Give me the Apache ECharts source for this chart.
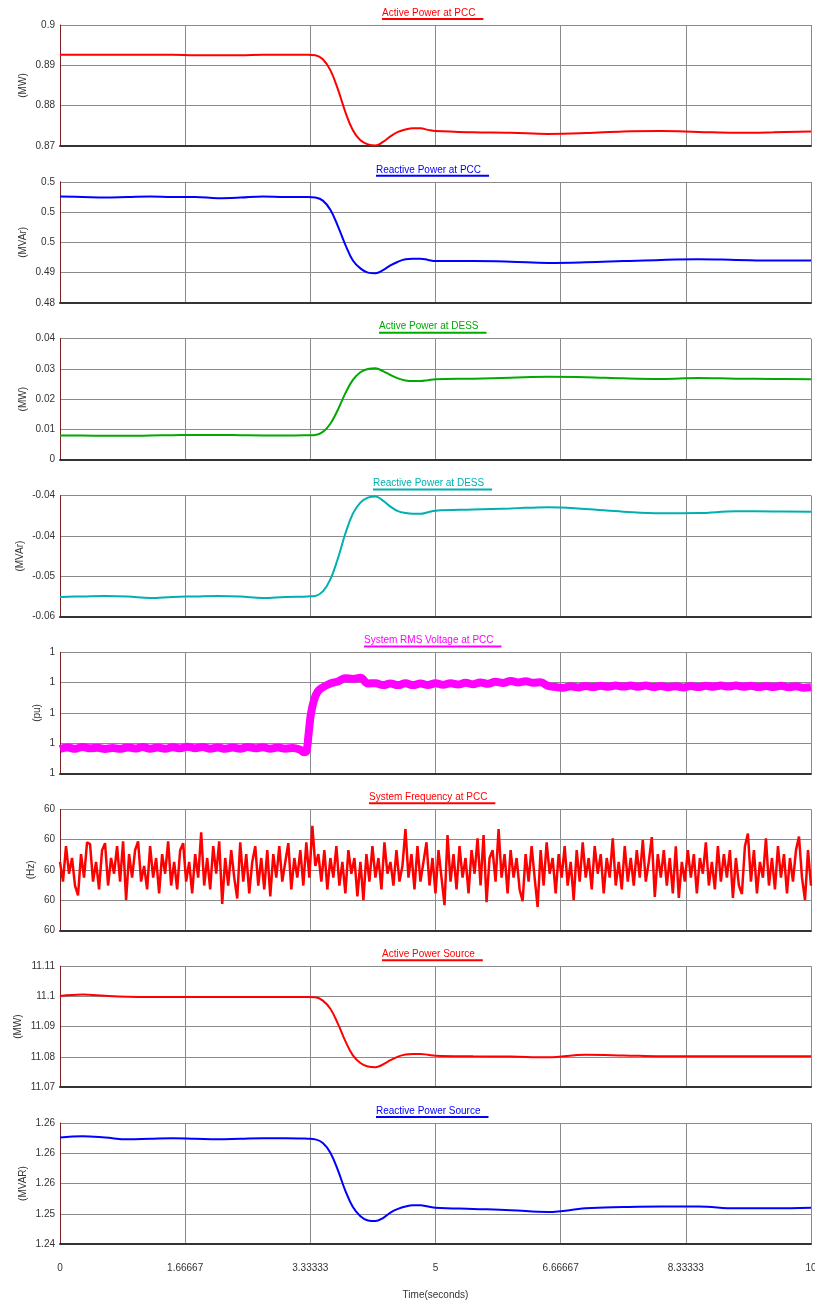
<!DOCTYPE html>
<html>
<head>
<meta charset="utf-8">
<script src="https://cdn.jsdelivr.net/npm/echarts@6/dist/echarts.min.js"></script>
<style>
  html, body { margin: 0; padding: 0; background: #ffffff; }
  #chart { width: 815px; height: 1302px; }
</style>
</head>
<body>
<div id="chart"></div>
<script>
// ---- Sample times (s) shared by the smooth power traces ----
const timeBase = [0, 0.3, 0.6, 0.9, 1.2, 1.5, 1.8, 2.1, 2.4, 2.7, 3.0, 3.3,
  3.4, 3.5, 3.6, 3.7, 3.8, 3.9, 4.0, 4.1, 4.2, 4.3, 4.4, 4.5, 4.6, 4.7, 4.8, 4.9, 5.0,
  5.5, 6.0, 6.5, 7.0, 7.5, 8.0, 8.5, 9.0, 9.5, 10.0];

// Active power at PCC (MW)
const pccActiveMW = [0.8926, 0.8926, 0.8926, 0.8926, 0.8926, 0.8926, 0.8925, 0.8925, 0.8925, 0.8926, 0.8926, 0.8926,
  0.8925, 0.8915, 0.8888, 0.8841, 0.8784, 0.8739, 0.8714, 0.8704, 0.8701, 0.8710, 0.8724, 0.8735, 0.8741, 0.8744, 0.8744, 0.8740, 0.8737,
  0.8734, 0.8733, 0.8730, 0.8732, 0.8736, 0.8737, 0.8735, 0.8733, 0.8734, 0.8736];

// Reactive power at PCC (MVAr)
const pccReactiveMVAr = [0.4976, 0.4975, 0.4974, 0.4975, 0.4976, 0.4975, 0.4975, 0.4973, 0.4974, 0.4976, 0.4975, 0.4975,
  0.4974, 0.4969, 0.4954, 0.4927, 0.4896, 0.4870, 0.4857, 0.4850, 0.4849, 0.4854, 0.4862, 0.4868, 0.4872, 0.4873, 0.4873, 0.4871, 0.4869,
  0.4869, 0.4868, 0.4866, 0.4867, 0.4869, 0.4871, 0.4872, 0.4871, 0.4870, 0.4870];

// Active power at DESS (MW)
const dessActiveMW = [0.0080, 0.0080, 0.0079, 0.0079, 0.0080, 0.0081, 0.0082, 0.0082, 0.0081, 0.0080, 0.0080, 0.0081,
  0.0082, 0.0092, 0.0119, 0.0165, 0.0220, 0.0264, 0.0289, 0.0300, 0.0302, 0.0293, 0.0280, 0.0269, 0.0262, 0.0260, 0.0260, 0.0263, 0.0266,
  0.0268, 0.0271, 0.0274, 0.0273, 0.0269, 0.0267, 0.0270, 0.0268, 0.0267, 0.0266];

// Reactive power at DESS (MVAr)
const dessReactiveMVAr = [-0.05634, -0.05625, -0.05616, -0.05625, -0.05653, -0.05634, -0.05625, -0.05616, -0.05625, -0.05653, -0.05634, -0.05625,
  -0.05616, -0.05532, -0.05309, -0.04920, -0.04456, -0.04085, -0.03880, -0.03787, -0.03769, -0.03843, -0.03955, -0.04040, -0.04075, -0.04088, -0.04088, -0.04060, -0.04031,
  -0.04010, -0.03990, -0.03966, -0.04000, -0.04050, -0.04080, -0.04075, -0.04041, -0.04045, -0.04050];

// Active power of the source (MW)
const srcActiveMW = [11.1001, 11.1006, 11.1002, 11.0999, 11.0998, 11.0998, 11.0998, 11.0998, 11.0998, 11.0998, 11.0998, 11.0998,
  11.0997, 11.0986, 11.0959, 11.0910, 11.0852, 11.0805, 11.0780, 11.0768, 11.0766, 11.0775, 11.0789, 11.0801, 11.0808, 11.0810, 11.0810, 11.0807, 11.0804,
  11.0802, 11.0801, 11.0799, 11.0807, 11.0805, 11.0802, 11.0802, 11.0802, 11.0802, 11.0802];

// Reactive power of the source (MVAR)
const srcReactiveMVAR = [1.2576, 1.2578, 1.2576, 1.2573, 1.2574, 1.2575, 1.2574, 1.2573, 1.2574, 1.2575, 1.2575, 1.2574,
  1.2573, 1.2567, 1.2551, 1.2522, 1.2488, 1.2461, 1.2446, 1.2439, 1.2438, 1.2443, 1.2452, 1.2458, 1.2462, 1.2464, 1.2464, 1.2462, 1.2460,
  1.2458, 1.2456, 1.2453, 1.2459, 1.2461, 1.2462, 1.2462, 1.2459, 1.2459, 1.2460];

// ---- RMS voltage at PCC (pu) ----
const voltTime = [0, 0.1, 0.2, 0.3, 0.4, 0.5, 0.6, 0.7, 0.8, 0.9, 1.0, 1.1, 1.2, 1.3, 1.4, 1.5, 1.6, 1.7, 1.8, 1.9, 2.0, 2.1, 2.2, 2.3, 2.4, 2.5, 2.6, 2.7, 2.8, 2.9, 3.0, 3.1, 3.2,
  3.25, 3.28, 3.31, 3.34, 3.38, 3.43, 3.5,
  3.6, 3.7, 3.8, 3.9, 4.0, 4.1, 4.2, 4.3, 4.4, 4.5, 4.6, 4.7, 4.8, 4.9, 5.0, 5.1, 5.2, 5.3, 5.4, 5.5, 5.6, 5.7, 5.8, 5.9, 6.0, 6.1, 6.2, 6.3, 6.4, 6.5, 6.6, 6.7, 6.8, 6.9, 7.0, 7.1, 7.2, 7.3, 7.4, 7.5, 7.6, 7.7, 7.8, 7.9, 8.0, 8.1, 8.2, 8.3, 8.4, 8.5, 8.6, 8.7, 8.8, 8.9, 9.0, 9.1, 9.2, 9.3, 9.4, 9.5, 9.6, 9.7, 9.8, 9.9, 10.0];
const voltPu = [0.99762, 0.99772, 0.99763, 0.99775, 0.99766, 0.99770, 0.99762, 0.99769, 0.99763, 0.99772, 0.99765, 0.99774, 0.99764, 0.99771, 0.99763, 0.99773, 0.99766, 0.99776, 0.99767, 0.99774, 0.99764, 0.99772, 0.99763, 0.99771, 0.99764, 0.99774, 0.99766, 0.99773, 0.99764, 0.99771, 0.99764, 0.99768, 0.99756,
  0.99740, 0.99745, 0.99860, 0.99990, 1.00080, 1.00140, 1.00170,
  1.00195, 1.00208, 1.00230, 1.00225, 1.00232, 1.00195, 1.00197, 1.00184, 1.00194, 1.00184, 1.00196, 1.00184, 1.00194, 1.00185, 1.00196, 1.00186, 1.00196, 1.00188, 1.00199, 1.00190, 1.00202, 1.00193, 1.00206, 1.00198, 1.00211, 1.00202, 1.00209, 1.00200, 1.00203, 1.00178, 1.00172, 1.00166, 1.00176, 1.00169, 1.00178, 1.00171, 1.00180, 1.00173, 1.00181, 1.00174, 1.00182, 1.00173, 1.00181, 1.00171, 1.00178, 1.00170, 1.00177, 1.00169, 1.00178, 1.00171, 1.00180, 1.00173, 1.00181, 1.00174, 1.00181, 1.00173, 1.00180, 1.00171, 1.00178, 1.00172, 1.00180, 1.00170, 1.00176, 1.00167, 1.00170];

// ---- System frequency at PCC (Hz), sampled every 0.04 s from t = 0 ----
const freqStart = 0;
const freqStep = 0.04;
const freqHz = [
  60.0026, 59.9961, 60.0078, 59.9987, 60.0039, 59.9948, 59.9915, 60.0052, 59.9974, 60.0091,
  60.0085, 59.9961, 60.0026, 59.9935, 60.0065, 60.0088, 59.9948, 60.0039, 59.9987, 60.0078,
  59.9961, 60.0094, 59.9900, 60.0052, 59.9974, 60.0065, 60.0094, 59.9961, 60.0013, 59.9935,
  60.0078, 59.9974, 60.0039, 59.9922, 60.0052, 59.9987, 60.0094, 59.9948, 60.0026, 59.9935,
  60.0065, 60.0088, 59.9961, 60.0026, 59.9922, 60.0052, 59.9974, 60.0124, 59.9948, 60.0039,
  59.9935, 60.0078, 59.9987, 60.0094, 59.9887, 60.0039, 59.9948, 60.0065, 59.9974, 59.9905,
  60.0091, 59.9961, 60.0052, 59.9922, 60.0026, 60.0078, 59.9948, 60.0039, 59.9935, 60.0065,
  59.9912, 60.0052, 59.9974, 60.0078, 59.9961, 60.0026, 60.0088, 59.9935, 60.0039, 59.9974,
  60.0065, 59.9948, 60.0091, 59.9974, 60.0145, 60.0013, 60.0052, 59.9961, 60.0065, 59.9935,
  60.0039, 59.9974, 60.0078, 59.9948, 60.0026, 59.9922, 60.0065, 59.9987, 60.0039, 59.9912,
  60.0026, 59.9900, 60.0052, 59.9961, 60.0078, 59.9974, 60.0039, 59.9935, 60.0091, 59.9987,
  60.0026, 59.9948, 60.0065, 59.9961, 60.0013, 60.0135, 59.9974, 60.0052, 59.9935, 60.0078,
  59.9961, 60.0026, 60.0091, 59.9948, 60.0039, 59.9922, 60.0065, 59.9974, 59.9883, 60.0115,
  59.9961, 60.0052, 59.9935, 60.0078, 59.9974, 60.0039, 59.9922, 60.0065, 59.9987, 60.0104,
  59.9948, 60.0115, 59.9893, 60.0039, 60.0065, 59.9961, 60.0135, 59.9974, 60.0052, 59.9922,
  60.0065, 59.9974, 60.0039, 59.9935, 59.9896, 60.0052, 59.9961, 60.0078, 59.9974, 59.9877,
  60.0065, 59.9948, 60.0091, 59.9987, 60.0039, 59.9922, 60.0052, 59.9974, 60.0078, 59.9948,
  60.0026, 59.9900, 60.0065, 59.9961, 60.0091, 59.9974, 60.0039, 59.9935, 60.0078, 59.9987,
  60.0052, 59.9922, 60.0039, 59.9974, 60.0104, 59.9948, 60.0026, 59.9935, 60.0078, 59.9961,
  60.0039, 59.9948, 60.0065, 59.9974, 60.0098, 59.9961, 60.0026, 60.0108, 59.9910, 60.0052,
  59.9974, 60.0065, 59.9948, 60.0039, 59.9922, 60.0078, 59.9907, 60.0026, 59.9961, 60.0065,
  59.9974, 60.0052, 59.9922, 60.0039, 59.9987, 60.0091, 59.9948, 60.0026, 59.9935, 60.0078,
  59.9961, 60.0052, 59.9974, 60.0065, 59.9907, 60.0039, 59.9948, 59.9920, 60.0078, 60.0120,
  59.9961, 60.0065, 59.9922, 60.0026, 59.9974, 60.0104, 59.9948, 60.0039, 59.9935, 60.0078,
  59.9974, 60.0052, 59.9922, 60.0039, 59.9961, 60.0065, 60.0110, 59.9974, 59.9900, 60.0065,
  59.9948
];
const freqTime = freqHz.map((_, k) => +(freqStart + k * freqStep).toFixed(2));

// ---- Tick labels ----
const timeTickLabels = ['0', '1.66667', '3.33333', '5', '6.66667', '8.33333', '10'];
const pccActiveTicks = ['0.87', '0.88', '0.89', '0.9'];
const pccReactiveTicks = ['0.48', '0.49', '0.5', '0.5', '0.5'];
const dessActiveTicks = ['0', '0.01', '0.02', '0.03', '0.04'];
const dessReactiveTicks = ['-0.06', '-0.05', '-0.04', '-0.04'];
const voltTicks = ['1', '1', '1', '1', '1'];
const freqTicks = ['60', '60', '60', '60', '60'];
const srcActiveTicks = ['11.07', '11.08', '11.09', '11.1', '11.11'];
const srcReactiveTicks = ['1.24', '1.25', '1.26', '1.26', '1.26'];

// ---- Panel definitions (top to bottom) ----
const panels = [
  { title: 'Active Power at PCC', unit: '(MW)', color: '#ff0000', min: 0.87, max: 0.90, interval: 0.01, ticks: pccActiveTicks, t: timeBase, v: pccActiveMW, width: 2, smooth: 0.4 },
  { title: 'Reactive Power at PCC', unit: '(MVAr)', color: '#0000ff', min: 0.48, max: 0.50, interval: 0.005, ticks: pccReactiveTicks, t: timeBase, v: pccReactiveMVAr, width: 2, smooth: 0.4 },
  { title: 'Active Power at DESS', unit: '(MW)', color: '#00aa00', min: 0, max: 0.04, interval: 0.01, ticks: dessActiveTicks, t: timeBase, v: dessActiveMW, width: 2, smooth: 0.4 },
  { title: 'Reactive Power at DESS', unit: '(MVAr)', color: '#00b0b0', min: -0.06, max: -0.0375, interval: 0.0075, ticks: dessReactiveTicks, t: timeBase, v: dessReactiveMVAr, width: 2, smooth: 0.4 },
  { title: 'System RMS Voltage at PCC', unit: '(pu)', color: '#ff00ff', min: 0.996, max: 1.004, interval: 0.002, ticks: voltTicks, t: voltTime, v: voltPu, width: 8, smooth: 0.4 },
  { title: 'System Frequency at PCC', unit: '(Hz)', color: '#ff0000', min: 59.98, max: 60.02, interval: 0.01, ticks: freqTicks, t: freqTime, v: freqHz, width: 2.5, smooth: false },
  { title: 'Active Power Source', unit: '(MW)', color: '#ff0000', min: 11.07, max: 11.11, interval: 0.01, ticks: srcActiveTicks, t: timeBase, v: srcActiveMW, width: 2, smooth: 0.4 },
  { title: 'Reactive Power Source', unit: '(MVAR)', color: '#0000ff', min: 1.24, max: 1.26, interval: 0.005, ticks: srcReactiveTicks, t: timeBase, v: srcReactiveMVAR, width: 2, smooth: 0.4 }
];

// ---- Layout and styling ----
const FONT = '"Liberation Sans", Arial, Helvetica, sans-serif';
const GRID_LEFT = 60, GRID_RIGHT = 4, PLOT_H = 121, FIRST_TOP = 25, PITCH = 156.86;
const TITLE_CENTER_X = 432.5;
const LABEL_MARGIN = 5;
const NAME_CLEARANCE = 7.5;
const SPLIT_COLOR = '#8a8a8a';
const TEXT_COLOR = '#333333';
const T_STEP = 10 / 6;

const measure = document.createElement('canvas').getContext('2d');
measure.font = '10px ' + FONT;

const grids = [], xAxes = [], yAxes = [], series = [], graphics = [];

panels.forEach((p, i) => {
  const top = FIRST_TOP + i * PITCH;
  const last = i === panels.length - 1;

  grids.push({
    left: GRID_LEFT, right: GRID_RIGHT, top: top, height: PLOT_H,
    containLabel: false, outerBoundsMode: 'none'
  });

  xAxes.push({
    type: 'value', gridIndex: i, min: 0, max: 10, interval: T_STEP,
    axisLine: { show: true, onZero: false, lineStyle: { color: '#333333', width: 2 } },
    axisTick: { show: false },
    axisLabel: {
      show: last, margin: 19, color: TEXT_COLOR, fontSize: 10, fontFamily: FONT,
      formatter: v => timeTickLabels[Math.round(v / T_STEP)]
    },
    splitLine: { show: true, lineStyle: { color: SPLIT_COLOR, width: 1 } },
    name: last ? 'Time(seconds)' : '',
    nameLocation: 'middle', nameGap: 46,
    nameTextStyle: { color: TEXT_COLOR, fontSize: 10, fontFamily: FONT }
  });

  // The unit name sits just outside the widest tick label
  const widestLabel = Math.max(...p.ticks.map(s => measure.measureText(s).width));
  yAxes.push({
    type: 'value', gridIndex: i, min: p.min, max: p.max, interval: p.interval,
    axisLine: { show: true, onZero: false, lineStyle: { color: '#7a1f1f', width: 1 } },
    axisTick: { show: false },
    axisLabel: {
      margin: LABEL_MARGIN, color: TEXT_COLOR, fontSize: 10, fontFamily: FONT,
      formatter: v => p.ticks[Math.round((v - p.min) / p.interval)]
    },
    splitLine: { show: true, lineStyle: { color: SPLIT_COLOR, width: 1 } },
    name: p.unit, nameLocation: 'middle', nameRotate: 90,
    nameGap: Math.round(widestLabel + LABEL_MARGIN + NAME_CLEARANCE),
    nameMoveOverlap: false,
    nameTextStyle: { color: TEXT_COLOR, fontSize: 10, fontFamily: FONT }
  });

  series.push({
    type: 'line', xAxisIndex: i, yAxisIndex: i,
    data: p.t.map((t, k) => [t, p.v[k]]),
    symbol: 'none', showSymbol: false,
    smooth: p.smooth,
    lineStyle: { color: p.color, width: p.width },
    itemStyle: { color: p.color },
    z: 3
  });

  // Panel caption with its coloured underline
  const textW = measure.measureText(p.title).width;
  const lineW = textW + 8;
  const x0 = Math.round(TITLE_CENTER_X - lineW / 2);
  graphics.push({
    type: 'text', left: x0, top: top - 17,
    style: { text: p.title, fill: p.color, font: '10px ' + FONT }
  });
  graphics.push({
    type: 'rect', shape: { x: x0, y: top - 7, width: lineW, height: 2 },
    style: { fill: p.color }
  });
});

const chart = echarts.init(document.getElementById('chart'), null, { renderer: 'canvas' });
chart.setOption({
  animation: false,
  backgroundColor: '#ffffff',
  grid: grids,
  xAxis: xAxes,
  yAxis: yAxes,
  series: series,
  graphic: graphics
});
</script>
</body>
</html>
